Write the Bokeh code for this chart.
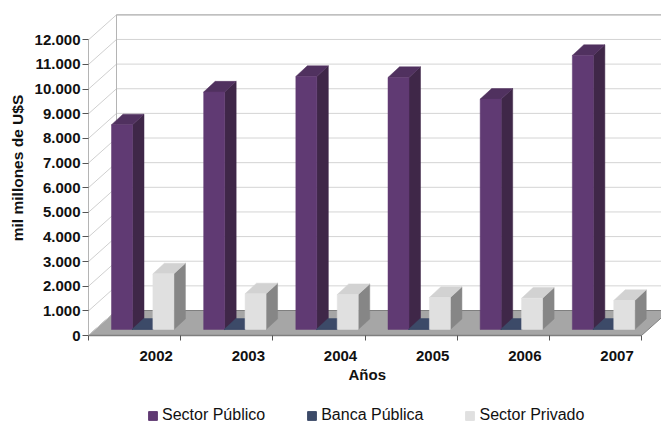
from bokeh.plotting import figure
from bokeh.layouts import column
from bokeh.models import FixedTicker, Legend, LegendItem, Title
from bokeh.embed import file_html
from bokeh.resources import INLINE

years = ["2002", "2003", "2004", "2005", "2006", "2007"]
sector_publico = [8310, 9640, 10270, 10230, 9350, 11125]
banca_publica = [15, 15, 15, 15, 15, 15]
sector_privado = [2260, 1450, 1420, 1300, 1270, 1180]
y_ticks = list(range(0, 13000, 1000))
series_names = ["Sector Público", "Banca Pública", "Sector Privado"]
series_colors = ["#603A73", "#3C4A68", "#E0E0E0"]
FONT = "Liberation Sans"

PX_X = 92.17   # px per category
PX_Y = 24.64 / 1000  # px per unit
W, H = 661, 421
L, B = 88, 57
LEG_H = 29
x_end = (W - L) / PX_X
y_end = (H - LEG_H - B) / PX_Y

def dx(px): return px / PX_X
def dy(px): return px / PX_Y

p = figure(output_backend="svg", toolbar_location=None,
           frame_width=W - L, frame_height=H - LEG_H - B,
           x_range=(0, x_end), y_range=(0, y_end), min_border_left=L, min_border_right=0,
           min_border_top=0, min_border_bottom=B, outline_line_color=None,
           background_fill_color="white", border_fill_color="white")
p.grid.visible = False

wx, wy = dx(28), dy(25)
n = len(years)
p.patch([0, n, n + wx, wx], [0, 0, wy, wy], fill_color="#A6A6A6", line_color="#7F7F7F", line_width=1)
p.segment([0] * len(y_ticks), y_ticks, [wx] * len(y_ticks), [t + wy for t in y_ticks],
          line_color="#CFCFCF", line_width=1)
top = y_ticks[1:]
p.segment([wx] * len(top), [t + wy for t in top], [x_end] * len(top), [t + wy for t in top],
          line_color="#D4D4D4", line_width=1)
p.line([wx, x_end], [y_ticks[-1] + wy] * 2, line_color="#B4B4B4", line_width=1.2)
p.line([wx, wx], [wy, y_ticks[-1] + wy], line_color="#B4B4B4", line_width=1)
p.line([wx, x_end], [wy, wy], line_color="#7F7F7F", line_width=1)

bw = dx(21)
start = dx(23)
bdx, bdy = dx(11.5), dy(10.6)
base = dy(6)

def bars(values, slot, front, side, topc):
    lefts = [i + start + slot * dx(20.7) for i in range(n)]
    rights = [l + bw for l in lefts]
    tops = [base + v for v in values]
    xs = [[r, r + bdx, r + bdx, r] for r in rights]
    ys = [[base, base + bdy, t + bdy, t] for t in tops]
    p.patches(xs, ys, fill_color=side, line_color=side, line_width=0.5)
    xs = [[l, r, r + bdx, l + bdx] for l, r in zip(lefts, rights)]
    ys = [[t, t, t + bdy, t + bdy] for t in tops]
    p.patches(xs, ys, fill_color=topc, line_color=topc, line_width=0.5)
    p.quad(left=lefts, right=rights, bottom=[base] * n, top=tops, fill_color=front, line_color=front, line_width=0.5)

bars(sector_publico, 0, series_colors[0], "#3F2748", "#50315F")
bars(banca_publica, 1, series_colors[1], "#2A3449", series_colors[1])
bars(sector_privado, 2, series_colors[2], "#868686", "#D2D2D2")

ya = p.yaxis[0]
ya.ticker = FixedTicker(ticks=y_ticks)
ya.bounds = (0, y_ticks[-1])
ya.major_label_overrides = {t: ("0" if t == 0 else f"{t // 1000}.000") for t in y_ticks}
ya.major_label_text_font = FONT
ya.major_label_text_font_style = "bold"
ya.major_label_text_font_size = "15px"
ya.major_label_text_color = "#111111"
ya.major_tick_out = 6
ya.major_tick_in = 0
ya.major_label_standoff = 2
ya.minor_tick_line_color = None
ya.major_tick_line_color = "#555555"
ya.axis_line_color = "#B4B4B4"
ya.axis_label = "mil millones de U$S"
ya.axis_label_text_font = FONT
ya.axis_label_text_font_style = "bold"
ya.axis_label_text_font_size = "15.5px"
ya.axis_label_text_color = "#111111"
ya.axis_label_standoff = 6

xa = p.xaxis[0]
label_pos = [i + dx(67.7) for i in range(n)]
xa.ticker = FixedTicker(ticks=label_pos, minor_ticks=list(range(n + 1)))
xa.bounds = (0, n)
xa.major_label_overrides = {pos: y for pos, y in zip(label_pos, years)}
xa.major_label_text_font = FONT
xa.major_label_text_font_style = "bold"
xa.major_label_text_font_size = "15px"
xa.major_label_text_color = "#111111"
xa.major_tick_line_color = None
xa.major_tick_out = 0
xa.major_tick_in = 0
xa.minor_tick_out = 5
xa.minor_tick_in = 0
xa.minor_tick_line_color = "#555555"
xa.major_label_standoff = 10
xa.axis_line_color = "#7F7F7F"
xa.axis_line_width = 1.5

p.add_layout(Title(text="Años", align="left", offset=260, standoff=1, text_font=FONT,
                   text_font_style="bold", text_font_size="15px", text_color="#111111"), "below")

# legend strip: a second figure below the chart
p2 = figure(output_backend="svg", toolbar_location=None, width=W, height=LEG_H,
            x_range=(0, 1), y_range=(0, 1), x_axis_location=None, y_axis_location=None,
            min_border=0, outline_line_color=None, background_fill_color="white",
            border_fill_color="white")
p2.grid.visible = False
items = []
for name, color in zip(series_names, series_colors):
    key = p2.quad(left=[-2], right=[-1], bottom=[-2], top=[-1], fill_color=color, line_color=color)
    items.append(LegendItem(label=name, renderers=[key]))
legend = Legend(items=items, orientation="horizontal", location=(59, -3), border_line_color=None,
                background_fill_alpha=0, glyph_width=11, glyph_height=11, label_standoff=4,
                label_height=16, spacing=41, padding=0, margin=0, label_text_font=FONT,
                label_text_font_size="16px", label_text_color="#111111")
p2.add_layout(legend, "center")

layout = column(p, p2, spacing=0)
open("out.html", "w").write(file_html(layout, INLINE))
